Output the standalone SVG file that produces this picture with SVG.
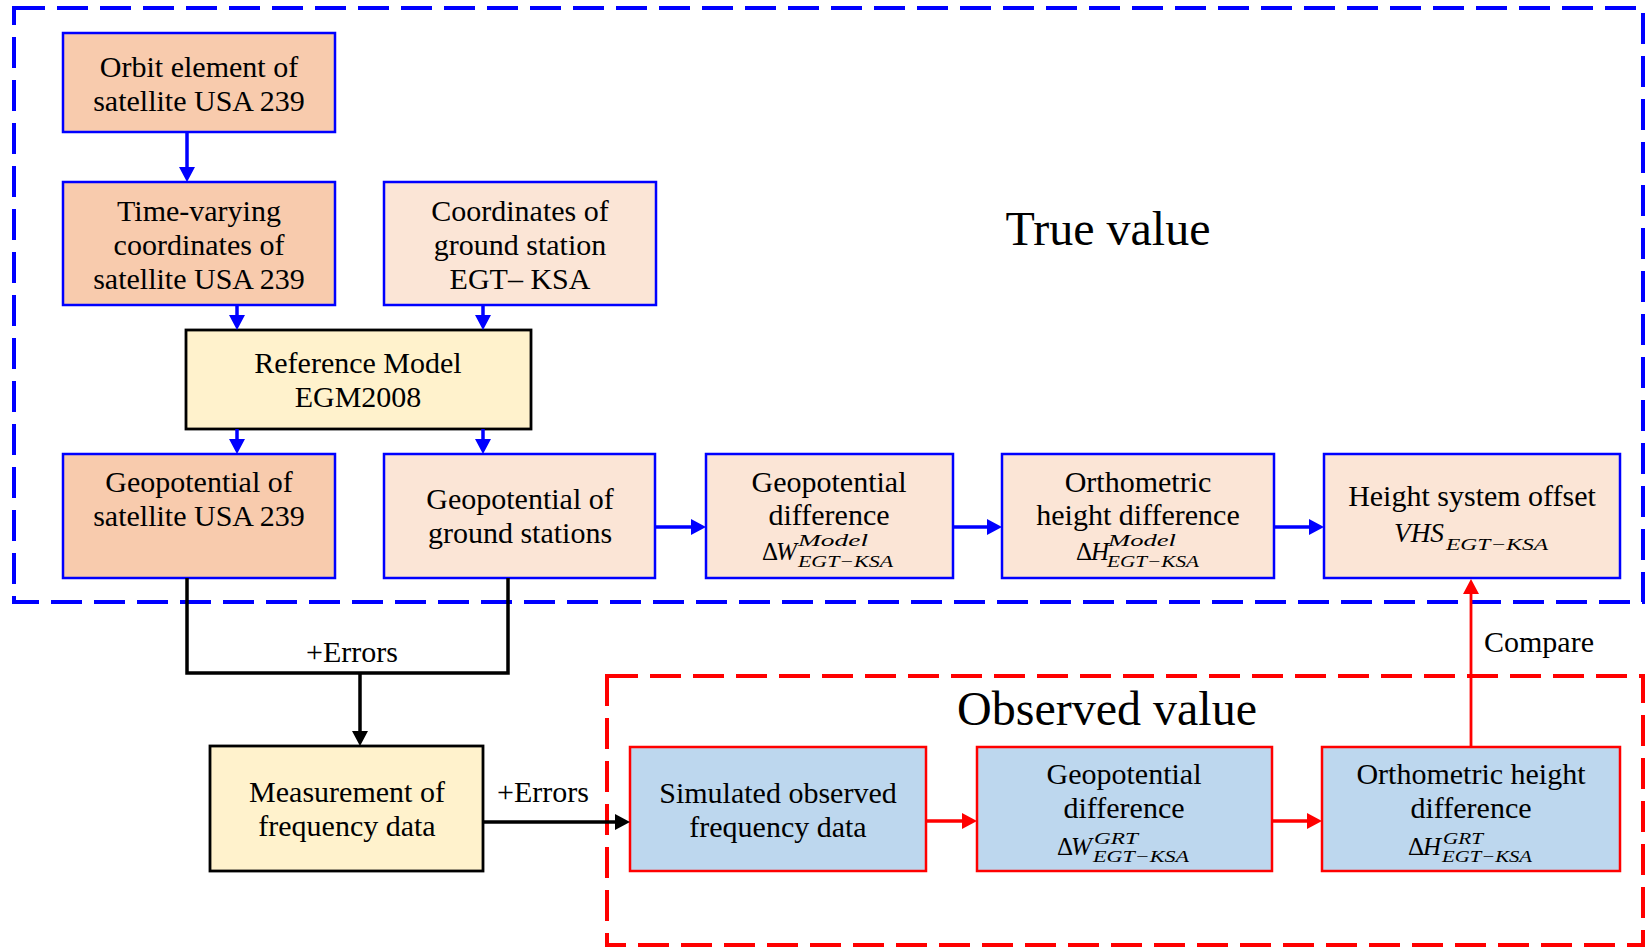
<svg xmlns="http://www.w3.org/2000/svg" width="1647" height="947" viewBox="0 0 1647 947">
<defs>
<marker id="ab" markerUnits="userSpaceOnUse" markerWidth="16" markerHeight="17" viewBox="0 0 16 17" refX="7" refY="8.5" orient="auto"><path d="M0,0.5 L15,8.5 L0,16.5 z" fill="#0000FF"/></marker>
<marker id="ak" markerUnits="userSpaceOnUse" markerWidth="16" markerHeight="17" viewBox="0 0 16 17" refX="7" refY="8.5" orient="auto"><path d="M0,0.5 L15,8.5 L0,16.5 z" fill="#000000"/></marker>
<marker id="ar" markerUnits="userSpaceOnUse" markerWidth="16" markerHeight="17" viewBox="0 0 16 17" refX="7" refY="8.5" orient="auto"><path d="M0,0.5 L15,8.5 L0,16.5 z" fill="#FF0000"/></marker>
</defs>
<style>
.t{font-family:"Liberation Serif","Times New Roman",serif;font-size:30px;fill:#000;text-anchor:middle}
.big{font-family:"Liberation Serif","Times New Roman",serif;font-size:48px;fill:#000;text-anchor:middle}
.lbl{font-family:"Liberation Serif","Times New Roman",serif;font-size:30px;fill:#000}
.mx{font-family:"Liberation Serif","Times New Roman",serif;fill:#000;font-size:25px}
.m{font-style:italic}
.s{font-style:italic;font-size:17px}
.bb{stroke:#0000FF;stroke-width:2.5}
.kb{stroke:#000;stroke-width:2.8}
.rb{stroke:#FF0000;stroke-width:2.5}
.f1{fill:#F8CBAD}
.f2{fill:#FBE5D6}
.f3{fill:#FFF2CC}
.f4{fill:#BDD7EE}
.cb{fill:none;stroke:#0000FF;stroke-width:3.5;marker-end:url(#ab)}
.ck{fill:none;stroke:#000;stroke-width:3.5}
.cr{fill:none;stroke:#FF0000;stroke-width:3.5;marker-end:url(#ar)}
</style>

<g id="true-value-container">
<rect x="14" y="8" width="1629" height="594" fill="none" stroke="#0000FF" stroke-width="4" stroke-dasharray="31 12"/>
<text class="big" x="1108" y="245">True value</text>
</g>
<g id="observed-value-container">
<rect x="607" y="676" width="1036" height="269" fill="none" stroke="#FF0000" stroke-width="4" stroke-dasharray="31 12"/>
<text class="big" x="1107" y="725">Observed value</text>
</g>

<g id="orbit-element">
<rect class="f1 bb" x="63" y="33" width="272" height="99"/>
<text class="t" x="199" y="77">Orbit element of</text>
<text class="t" x="199" y="111">satellite USA 239</text>
</g>
<g id="time-varying-coordinates">
<rect class="f1 bb" x="63" y="182" width="272" height="123"/>
<text class="t" x="199" y="221">Time-varying</text>
<text class="t" x="199" y="255">coordinates of</text>
<text class="t" x="199" y="289">satellite USA 239</text>
</g>
<g id="ground-station-coordinates">
<rect class="f2 bb" x="384" y="182" width="272" height="123"/>
<text class="t" x="520" y="221">Coordinates of</text>
<text class="t" x="520" y="255">ground station</text>
<text class="t" x="520" y="289">EGT– KSA</text>
</g>
<g id="reference-model">
<rect class="f3 kb" x="186" y="330" width="345" height="99"/>
<text class="t" x="358" y="373">Reference Model</text>
<text class="t" x="358" y="407">EGM2008</text>
</g>
<g id="geopotential-satellite">
<rect class="f1 bb" x="63" y="454" width="272" height="124"/>
<text class="t" x="199" y="492">Geopotential of</text>
<text class="t" x="199" y="526">satellite USA 239</text>
</g>
<g id="geopotential-ground">
<rect class="f2 bb" x="384" y="454" width="271" height="124"/>
<text class="t" x="520" y="509">Geopotential of</text>
<text class="t" x="520" y="543">ground stations</text>
</g>
<g id="geopotential-difference-model">
<rect class="f2 bb" x="706" y="454" width="247" height="124"/>
<text class="t" x="829" y="492">Geopotential</text>
<text class="t" x="829" y="525">difference</text>
<text class="mx"><tspan x="762" y="560">Δ</tspan><tspan class="m" x="776" y="560">W</tspan><tspan class="s" x="798" y="546" textLength="70" lengthAdjust="spacingAndGlyphs">Model</tspan><tspan class="s" x="798" y="567" textLength="95" lengthAdjust="spacingAndGlyphs">EGT−KSA</tspan></text>
</g>
<g id="orthometric-difference-model">
<rect class="f2 bb" x="1002" y="454" width="272" height="124"/>
<text class="t" x="1138" y="492">Orthometric</text>
<text class="t" x="1138" y="525">height difference</text>
<text class="mx"><tspan x="1076" y="560">Δ</tspan><tspan class="m" x="1091" y="560">H</tspan><tspan class="s" x="1108" y="546" textLength="68" lengthAdjust="spacingAndGlyphs">Model</tspan><tspan class="s" x="1107" y="567" textLength="92" lengthAdjust="spacingAndGlyphs">EGT−KSA</tspan></text>
</g>
<g id="height-system-offset">
<rect class="f2 bb" x="1324" y="454" width="296" height="124"/>
<text class="t" x="1472" y="506">Height system offset</text>
<text class="mx"><tspan class="m" x="1394" y="542" style="font-size:27px" textLength="50" lengthAdjust="spacingAndGlyphs">VHS</tspan><tspan class="s" x="1446" y="550" textLength="102" lengthAdjust="spacingAndGlyphs">EGT−KSA</tspan></text>
</g>

<g id="measurement-frequency">
<rect class="f3 kb" x="210" y="746" width="273" height="125"/>
<text class="t" x="347" y="802">Measurement of</text>
<text class="t" x="347" y="836">frequency data</text>
</g>
<g id="simulated-frequency">
<rect class="f4 rb" x="630" y="747" width="296" height="124"/>
<text class="t" x="778" y="803">Simulated observed</text>
<text class="t" x="778" y="837">frequency data</text>
</g>
<g id="geopotential-difference-grt">
<rect class="f4 rb" x="977" y="747" width="295" height="124"/>
<text class="t" x="1124" y="784">Geopotential</text>
<text class="t" x="1124" y="818">difference</text>
<text class="mx"><tspan x="1057" y="855">Δ</tspan><tspan class="m" x="1071" y="855">W</tspan><tspan class="s" x="1094" y="844" textLength="44" lengthAdjust="spacingAndGlyphs">GRT</tspan><tspan class="s" x="1093" y="862" textLength="96" lengthAdjust="spacingAndGlyphs">EGT−KSA</tspan></text>
</g>
<g id="orthometric-difference-grt">
<rect class="f4 rb" x="1322" y="747" width="298" height="124"/>
<text class="t" x="1471" y="784">Orthometric height</text>
<text class="t" x="1471" y="818">difference</text>
<text class="mx"><tspan x="1408" y="855">Δ</tspan><tspan class="m" x="1423" y="855">H</tspan><tspan class="s" x="1443" y="844" textLength="40" lengthAdjust="spacingAndGlyphs">GRT</tspan><tspan class="s" x="1442" y="862" textLength="90" lengthAdjust="spacingAndGlyphs">EGT−KSA</tspan></text>
</g>

<g id="connectors">
<path class="cb" d="M187,132 V174"/>
<path class="cb" d="M237,305 V322"/>
<path class="cb" d="M483,305 V322"/>
<path class="cb" d="M237,429 V446"/>
<path class="cb" d="M483,429 V446"/>
<path class="cb" d="M655,527 H698"/>
<path class="cb" d="M953,527 H994"/>
<path class="cb" d="M1274,527 H1316"/>
<path class="ck" d="M187,578 V673 H508 V578"/>
<path class="ck" d="M360,673 V738" marker-end="url(#ak)"/>
<path class="ck" d="M483,822 H622" marker-end="url(#ak)"/>
<path class="cr" d="M926,821 H969"/>
<path class="cr" d="M1272,821 H1314"/>
<path class="cr" d="M1471,747 V587" style="stroke-width:2.8"/>
<text class="t" x="352" y="662">+Errors</text>
<text class="t" x="543" y="802">+Errors</text>
<text class="lbl" x="1484" y="652">Compare</text>
</g>
</svg>
